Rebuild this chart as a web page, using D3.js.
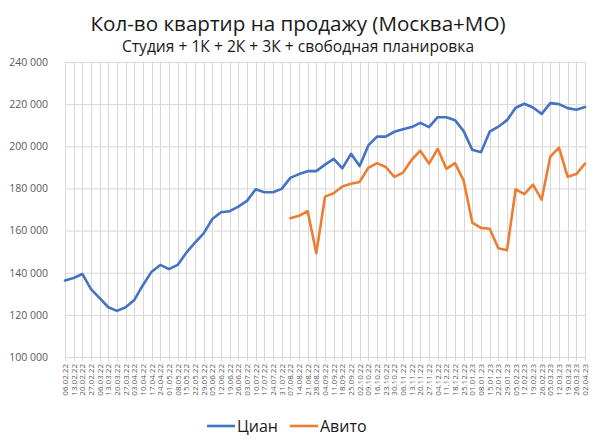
<!DOCTYPE html>
<html>
<head>
<meta charset="utf-8">
<script src="https://cdn.jsdelivr.net/npm/d3@7"></script>
<style>
body { margin: 0; background: #fff; }
text { font-family: "Open Sans", "Liberation Sans", sans-serif; }
</style>
</head>
<body>
<div id="chart"></div>
<script>
// weekly dates
var dates = ['06.02.22', '13.02.22', '20.02.22', '27.02.22', '06.03.22', '13.03.22', '20.03.22', '27.03.22',
	'03.04.22', '10.04.22', '17.04.22', '24.04.22', '01.05.22', '08.05.22', '15.05.22', '22.05.22', '29.05.22',
	'05.06.22', '12.06.22', '19.06.22', '26.06.22', '03.07.22', '10.07.22', '17.07.22', '24.07.22', '31.07.22',
	'07.08.22', '14.08.22', '21.08.22', '28.08.22', '04.09.22', '11.09.22', '18.09.22', '25.09.22', '02.10.22',
	'09.10.22', '16.10.22', '23.10.22', '30.10.22', '06.11.22', '13.11.22', '20.11.22', '27.11.22', '04.12.22',
	'11.12.22', '18.12.22', '25.12.22', '01.01.23', '08.01.23', '15.01.23', '22.01.23', '29.01.23', '05.02.23',
	'12.02.23', '19.02.23', '26.02.23', '05.03.23', '12.03.23', '19.03.23', '26.03.23', '02.04.23'];

var cian = [136300, 137500, 139400, 132200, 127900, 123600, 121900, 123600, 127100, 134200,
	140500, 143700, 141700, 143700, 149500, 154300, 158700, 165500, 168700, 169200,
	171400, 174100, 179600, 178200, 178200, 179800, 185000, 186800, 188200, 188200,
	191300, 194000, 189500, 196400, 190600, 200400, 204600, 204600, 206900, 208100,
	209100, 211100, 209100, 213800, 213800, 212400, 207200, 198300, 197200, 206900,
	209300, 212400, 218300, 220200, 218400, 215400, 220500, 220000, 218100, 217300, 218600];

// Avito has no data before 07.08.22
var avito = [null, null, null, null, null, null, null, null, null, null,
	null, null, null, null, null, null, null, null, null, null,
	null, null, null, null, null, null, 165900, 167000, 169200, 149300,
	176100, 177700, 180900, 182200, 183100, 189800, 192000, 190200, 185500, 187500,
	193600, 197900, 191800, 198800, 189300, 192000, 183700, 163800, 161300, 160900,
	151600, 150700, 179600, 177300, 181800, 174700, 195100, 199400, 185500, 186800, 191800];

var yTicks = [100000, 120000, 140000, 160000, 180000, 200000, 220000, 240000];
var seriesNames = ['Циан', 'Авито'];
var seriesColors = ['#4472C4', '#ED7D31'];

var W = 599, H = 446;
var margin = {top: 62, right: 14, bottom: 89, left: 65};

var svg = d3.select('#chart').append('svg')
	.attr('width', W)
	.attr('height', H);

var x = d3.scalePoint().domain(dates).range([margin.left, W - margin.right]);
var y = d3.scaleLinear().domain([100000, 240000]).range([H - margin.bottom, margin.top]);

// gridlines
svg.append('g')
	.selectAll('line')
	.data(yTicks)
	.enter()
	.append('line')
	.attr('x1', margin.left)
	.attr('x2', W - margin.right)
	.attr('y1', function(d) { return y(d) + 0.5; })
	.attr('y2', function(d) { return y(d) + 0.5; })
	.attr('stroke', '#d9d9d9')
	.attr('stroke-width', 1);
svg.append('g')
	.selectAll('line')
	.data(dates)
	.enter()
	.append('line')
	.attr('x1', function(d) { return Math.round(x(d)) + 0.5; })
	.attr('x2', function(d) { return Math.round(x(d)) + 0.5; })
	.attr('y1', margin.top)
	.attr('y2', H - margin.bottom + 4)
	.attr('stroke', '#d9d9d9')
	.attr('stroke-width', 1);

// y axis labels
var fmt = function(d) { return d3.format(',')(d).replace(/,/g, ' '); };
var yAxis = svg.append('g')
	.attr('transform', 'translate(' + (margin.left - 14) + ',0)')
	.call(d3.axisLeft(y).tickValues(yTicks).tickFormat(fmt).tickSize(0));
yAxis.select('.domain').remove();
yAxis.selectAll('text')
	.attr('font-size', '10.5px')
	.attr('fill', '#595959')
	.attr('font-family', '"Open Sans", sans-serif');

// x axis labels, rotated
var xAxis = svg.append('g')
	.attr('transform', 'translate(0,' + (H - margin.bottom + 7) + ')')
	.call(d3.axisBottom(x).tickSize(0));
xAxis.select('.domain').remove();
xAxis.selectAll('text')
	.attr('font-size', '8px')
	.attr('fill', '#595959')
	.attr('font-family', '"Open Sans", sans-serif')
	.attr('text-anchor', 'end')
	.attr('dy', '0.32em')
	.attr('transform', 'rotate(-90)')
	.attr('x', 0)
	.attr('y', 0);

// lines
var line = d3.line()
	.defined(function(d) { return d !== null; })
	.x(function(d, i) { return x(dates[i]); })
	.y(function(d) { return y(d); });

[cian, avito].forEach(function(s, k) {
	svg.append('path')
		.datum(s)
		.attr('fill', 'none')
		.attr('stroke', seriesColors[k])
		.attr('stroke-width', 2.6)
		.attr('stroke-linejoin', 'round')
		.attr('stroke-linecap', 'round')
		.attr('d', line);
});

// titles
svg.append('text')
	.attr('x', 298)
	.attr('y', 31)
	.attr('text-anchor', 'middle')
	.attr('font-size', '20.6px')
	.attr('fill', '#1a1a1a')
	.text('Кол-во квартир на продажу (Москва+МО)');
svg.append('text')
	.attr('x', 298)
	.attr('y', 52)
	.attr('text-anchor', 'middle')
	.attr('font-size', '15.6px')
	.attr('fill', '#1a1a1a')
	.text('Студия + 1К + 2К + 3К + свободная планировка');

// legend
var legendX = [207, 290];
seriesNames.forEach(function(name, k) {
	var g = svg.append('g').attr('transform', 'translate(' + legendX[k] + ',426)');
	g.append('line')
		.attr('x1', 0).attr('x2', 28)
		.attr('stroke', seriesColors[k])
		.attr('stroke-width', 2.6);
	g.append('text')
		.attr('x', 30)
		.attr('dy', '0.35em')
		.attr('font-size', '16px')
		.attr('fill', '#1a1a1a')
		.text(name);
});
</script>
</body>
</html>
